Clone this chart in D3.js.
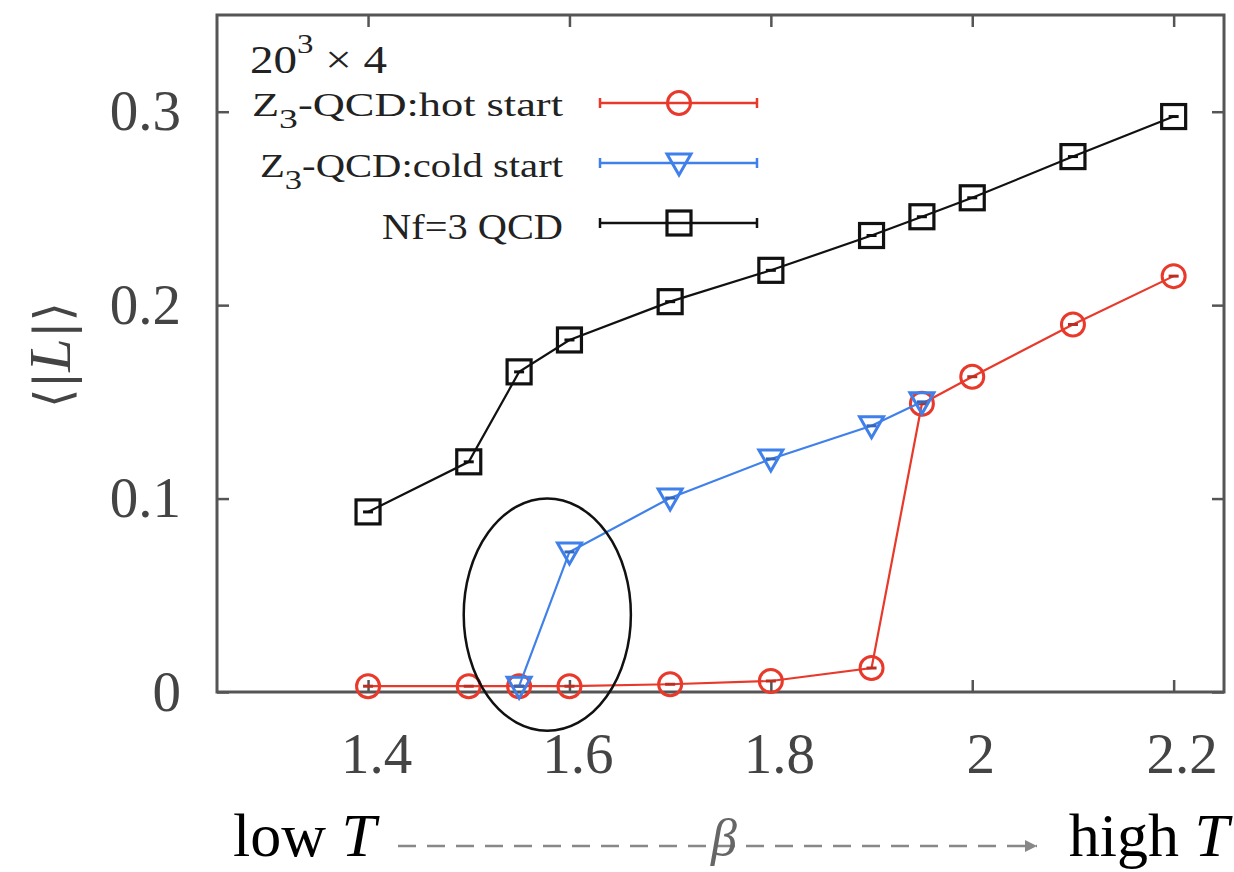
<!DOCTYPE html>
<html lang="en">
<head>
  <meta charset="UTF-8">
  <title>polyakov loop</title>
  <script src="https://cdn.jsdelivr.net/npm/d3@7"></script>
  <style>
    body { margin: 0; background: #fff; }
    text { font-family: "Liberation Serif", "Times New Roman", serif; }
  </style>
</head>
<body>
  <svg width="1234" height="872"></svg>
  <script>
    // data
    var betaHot = [1.4, 1.5, 1.55, 1.6, 1.7, 1.8, 1.9, 1.95, 2.0, 2.1, 2.2]
    var hotL = [0.003, 0.003, 0.003, 0.003, 0.004, 0.0057, 0.0124, 0.149, 0.163, 0.19, 0.215]
    var betaCold = [1.55, 1.6, 1.7, 1.8, 1.9, 1.95]
    var coldL = [0.003, 0.0724, 0.1003, 0.1205, 0.1376, 0.150]
    var betaNf3 = [1.4, 1.5, 1.55, 1.6, 1.7, 1.8, 1.9, 1.95, 2.0, 2.1, 2.2]
    var nf3L = [0.0931, 0.119, 0.1655, 0.182, 0.2018, 0.218, 0.236, 0.2457, 0.2555, 0.2768, 0.2975]
    var xTicks = [1.4, 1.6, 1.8, 2, 2.2]
    var yTicks = [0, 0.1, 0.2, 0.3]
    // circled region (data coords)
    var circled = { cx: 1.578, cy: 0.040, rx: 0.083, ry: 0.060 }

    var svg = d3.select('svg')
    // note: "top" is taken by window.top, so use other names
    var plotL = 217, plotR = 1224, plotT = 15, plotB = 692

    var x = d3.scaleLinear().domain([1.25, 2.25]).range([plotL, plotR])
    var y = d3.scaleLinear().domain([0, 0.35]).range([plotB, plotT])

    var red = '#e8392b', blue = '#3f80ea', black = '#111'
    var axisCol = '#555'

    // axes with inward ticks, mirrored on top/right
    function styleAxis(g) {
      g.select('.domain').remove()
      g.selectAll('line').attr('stroke', axisCol).attr('stroke-width', 2.5)
      g.selectAll('text').attr('fill', '#444').style('font-size', '57px')
        .style('font-family', '"Liberation Serif", serif')
    }
    svg.append('g').attr('transform', `translate(0,${plotB})`)
      .call(d3.axisBottom(x).tickValues(xTicks).tickSizeInner(-12).tickSizeOuter(0).tickPadding(41).tickFormat(d3.format('')))
      .call(styleAxis)
      .selectAll('text').attr('dx', 8)
    svg.append('g').attr('transform', `translate(0,${plotT})`)
      .call(d3.axisTop(x).tickValues(xTicks).tickSizeInner(-12).tickSizeOuter(0).tickFormat(''))
      .call(styleAxis)
    svg.append('g').attr('transform', `translate(${plotL},0)`)
      .call(d3.axisLeft(y).tickValues(yTicks).tickSizeInner(-12).tickSizeOuter(0).tickPadding(36).tickFormat(d3.format('')))
      .call(styleAxis)
    svg.append('g').attr('transform', `translate(${plotR},0)`)
      .call(d3.axisRight(y).tickValues(yTicks).tickSizeInner(-12).tickSizeOuter(0).tickFormat(''))
      .call(styleAxis)

    svg.append('rect')
      .attr('x', plotL).attr('y', plotT)
      .attr('width', plotR - plotL).attr('height', plotB - plotT)
      .attr('fill', 'none').attr('stroke', axisCol).attr('stroke-width', 3)

    // y label <|L|>
    var ylab = svg.append('text')
      .attr('transform', 'translate(70,355) rotate(-90)')
      .attr('text-anchor', 'middle')
      .attr('fill', '#444')
      .style('font-size', '60px')
    ylab.append('tspan').style('font-family', '"DejaVu Serif", serif').style('font-size', '50px').text('\u27E8|')
    ylab.append('tspan').style('font-style', 'italic').text('L')
    ylab.append('tspan').style('font-family', '"DejaVu Serif", serif').style('font-size', '50px').text('|\u27E9')

    // markers
    var line = d3.line().x(d => x(d[0])).y(d => y(d[1]))

    function drawMarker(g, type, color) {
      if (type === 'circle') {
        g.append('circle').attr('r', 11.5).attr('fill', 'none').attr('stroke', color).attr('stroke-width', 3)
      } else if (type === 'square') {
        g.append('rect').attr('x', -12).attr('y', -12).attr('width', 24).attr('height', 24)
          .attr('fill', 'none').attr('stroke', color).attr('stroke-width', 3.2)
      } else {
        g.append('path').attr('d', 'M-12,-9L12,-9L0,12Z')
          .attr('fill', 'none').attr('stroke', color).attr('stroke-width', 3)
      }
    }

    function series(xs, ys, color, type) {
      var pts = xs.map((b, i) => [b, ys[i]])
      var g = svg.append('g')
      g.append('path').attr('d', line(pts)).attr('fill', 'none')
        .attr('stroke', color).attr('stroke-width', 2.2)
      var m = g.selectAll('g.m').data(pts).enter().append('g')
        .attr('class', 'm')
        .attr('transform', d => `translate(${x(d[0])},${y(d[1])})`)
      m.each(function () { drawMarker(d3.select(this), type, color) })
      // tiny error bar inside the marker
      m.append('line').attr('x1', -5).attr('x2', 5)
        .attr('stroke', d3.color(color).darker(0.6)).attr('stroke-width', 3)
    }

    series(betaHot, hotL, red, 'circle')
    series(betaCold, coldL, blue, 'triangle')
    series(betaNf3, nf3L, black, 'square')

    // ellipse around the transition
    svg.append('ellipse')
      .attr('cx', x(circled.cx)).attr('cy', y(circled.cy))
      .attr('rx', x(circled.cx + circled.rx) - x(circled.cx))
      .attr('ry', y(circled.cy) - y(circled.cy + circled.ry))
      .attr('fill', 'none').attr('stroke', '#111').attr('stroke-width', 2.5)

    // legend (the original text is drawn rather wide)
    var title = svg.append('text').attr('x', 250).attr('y', 73).attr('fill', '#222')
      .style('font-size', '40px').attr('textLength', 137).attr('lengthAdjust', 'spacingAndGlyphs')
    title.append('tspan').text('20')
    title.append('tspan').attr('dy', -20).style('font-size', '28px').text('3')
    title.append('tspan').attr('dy', 20).text(' \u00D7 4')

    var legendItems = [
      { pre: 'Z', sub: '3', post: '-QCD:hot start', color: red, type: 'circle', y: 103, w: 311, fs: 33, base: 13 },
      { pre: 'Z', sub: '3', post: '-QCD:cold start', color: blue, type: 'triangle', y: 163, w: 303, fs: 33, base: 14 },
      { pre: 'Nf=3 QCD', sub: '', post: '', color: black, type: 'square', y: 223, w: 181, fs: 36, base: 16 }
    ]
    legendItems.forEach(item => {
      var t = svg.append('text').attr('x', 563 - item.w).attr('y', item.y + item.base)
        .attr('fill', '#222').style('font-size', item.fs + 'px')
        .attr('textLength', item.w).attr('lengthAdjust', 'spacingAndGlyphs')
      t.append('tspan').text(item.pre)
      if (item.sub) {
        t.append('tspan').attr('dy', 12).style('font-size', '28px').text(item.sub)
        t.append('tspan').attr('dy', -12).text(item.post)
      }
      var g = svg.append('g')
      g.append('line').attr('x1', 600).attr('x2', 757).attr('y1', item.y).attr('y2', item.y)
        .attr('stroke', item.color).attr('stroke-width', 2.5)
      g.append('line').attr('x1', 600).attr('x2', 600).attr('y1', item.y - 5).attr('y2', item.y + 5)
        .attr('stroke', item.color).attr('stroke-width', 2.5)
      g.append('line').attr('x1', 757).attr('x2', 757).attr('y1', item.y - 5).attr('y2', item.y + 5)
        .attr('stroke', item.color).attr('stroke-width', 2.5)
      drawMarker(g.append('g').attr('transform', `translate(679,${item.y})`), item.type, item.color)
    })

    // bottom annotation: low T --- beta ---> high T
    var low = svg.append('text').attr('x', 233).attr('y', 856).attr('fill', '#000').style('font-size', '62px')
    low.append('tspan').text('low ')
    low.append('tspan').style('font-style', 'italic').text('T')
    var high = svg.append('text').attr('x', 1229).attr('y', 856).attr('text-anchor', 'end')
      .attr('fill', '#000').style('font-size', '62px')
    high.append('tspan').text('high ')
    high.append('tspan').style('font-style', 'italic').text('T')

    svg.append('defs').append('marker')
      .attr('id', 'arrow').attr('viewBox', '0 0 10 10')
      .attr('refX', 10).attr('refY', 5)
      .attr('markerWidth', 5).attr('markerHeight', 5)
      .attr('markerUnits', 'strokeWidth')
      .attr('orient', 'auto')
      .append('path').attr('d', 'M0,0L10,5L0,10Z').attr('fill', '#888')

    svg.append('line')
      .attr('x1', 398).attr('x2', 1037).attr('y1', 846).attr('y2', 846)
      .attr('stroke', '#888').attr('stroke-width', 2.5)
      .attr('stroke-dasharray', '18,11')
      .attr('marker-end', 'url(#arrow)')

    svg.append('text').attr('x', 724).attr('y', 855).attr('text-anchor', 'middle')
      .attr('fill', '#666').style('font-size', '52px').style('font-style', 'italic')
      .text('\u03B2')
  </script>
</body>
</html>
